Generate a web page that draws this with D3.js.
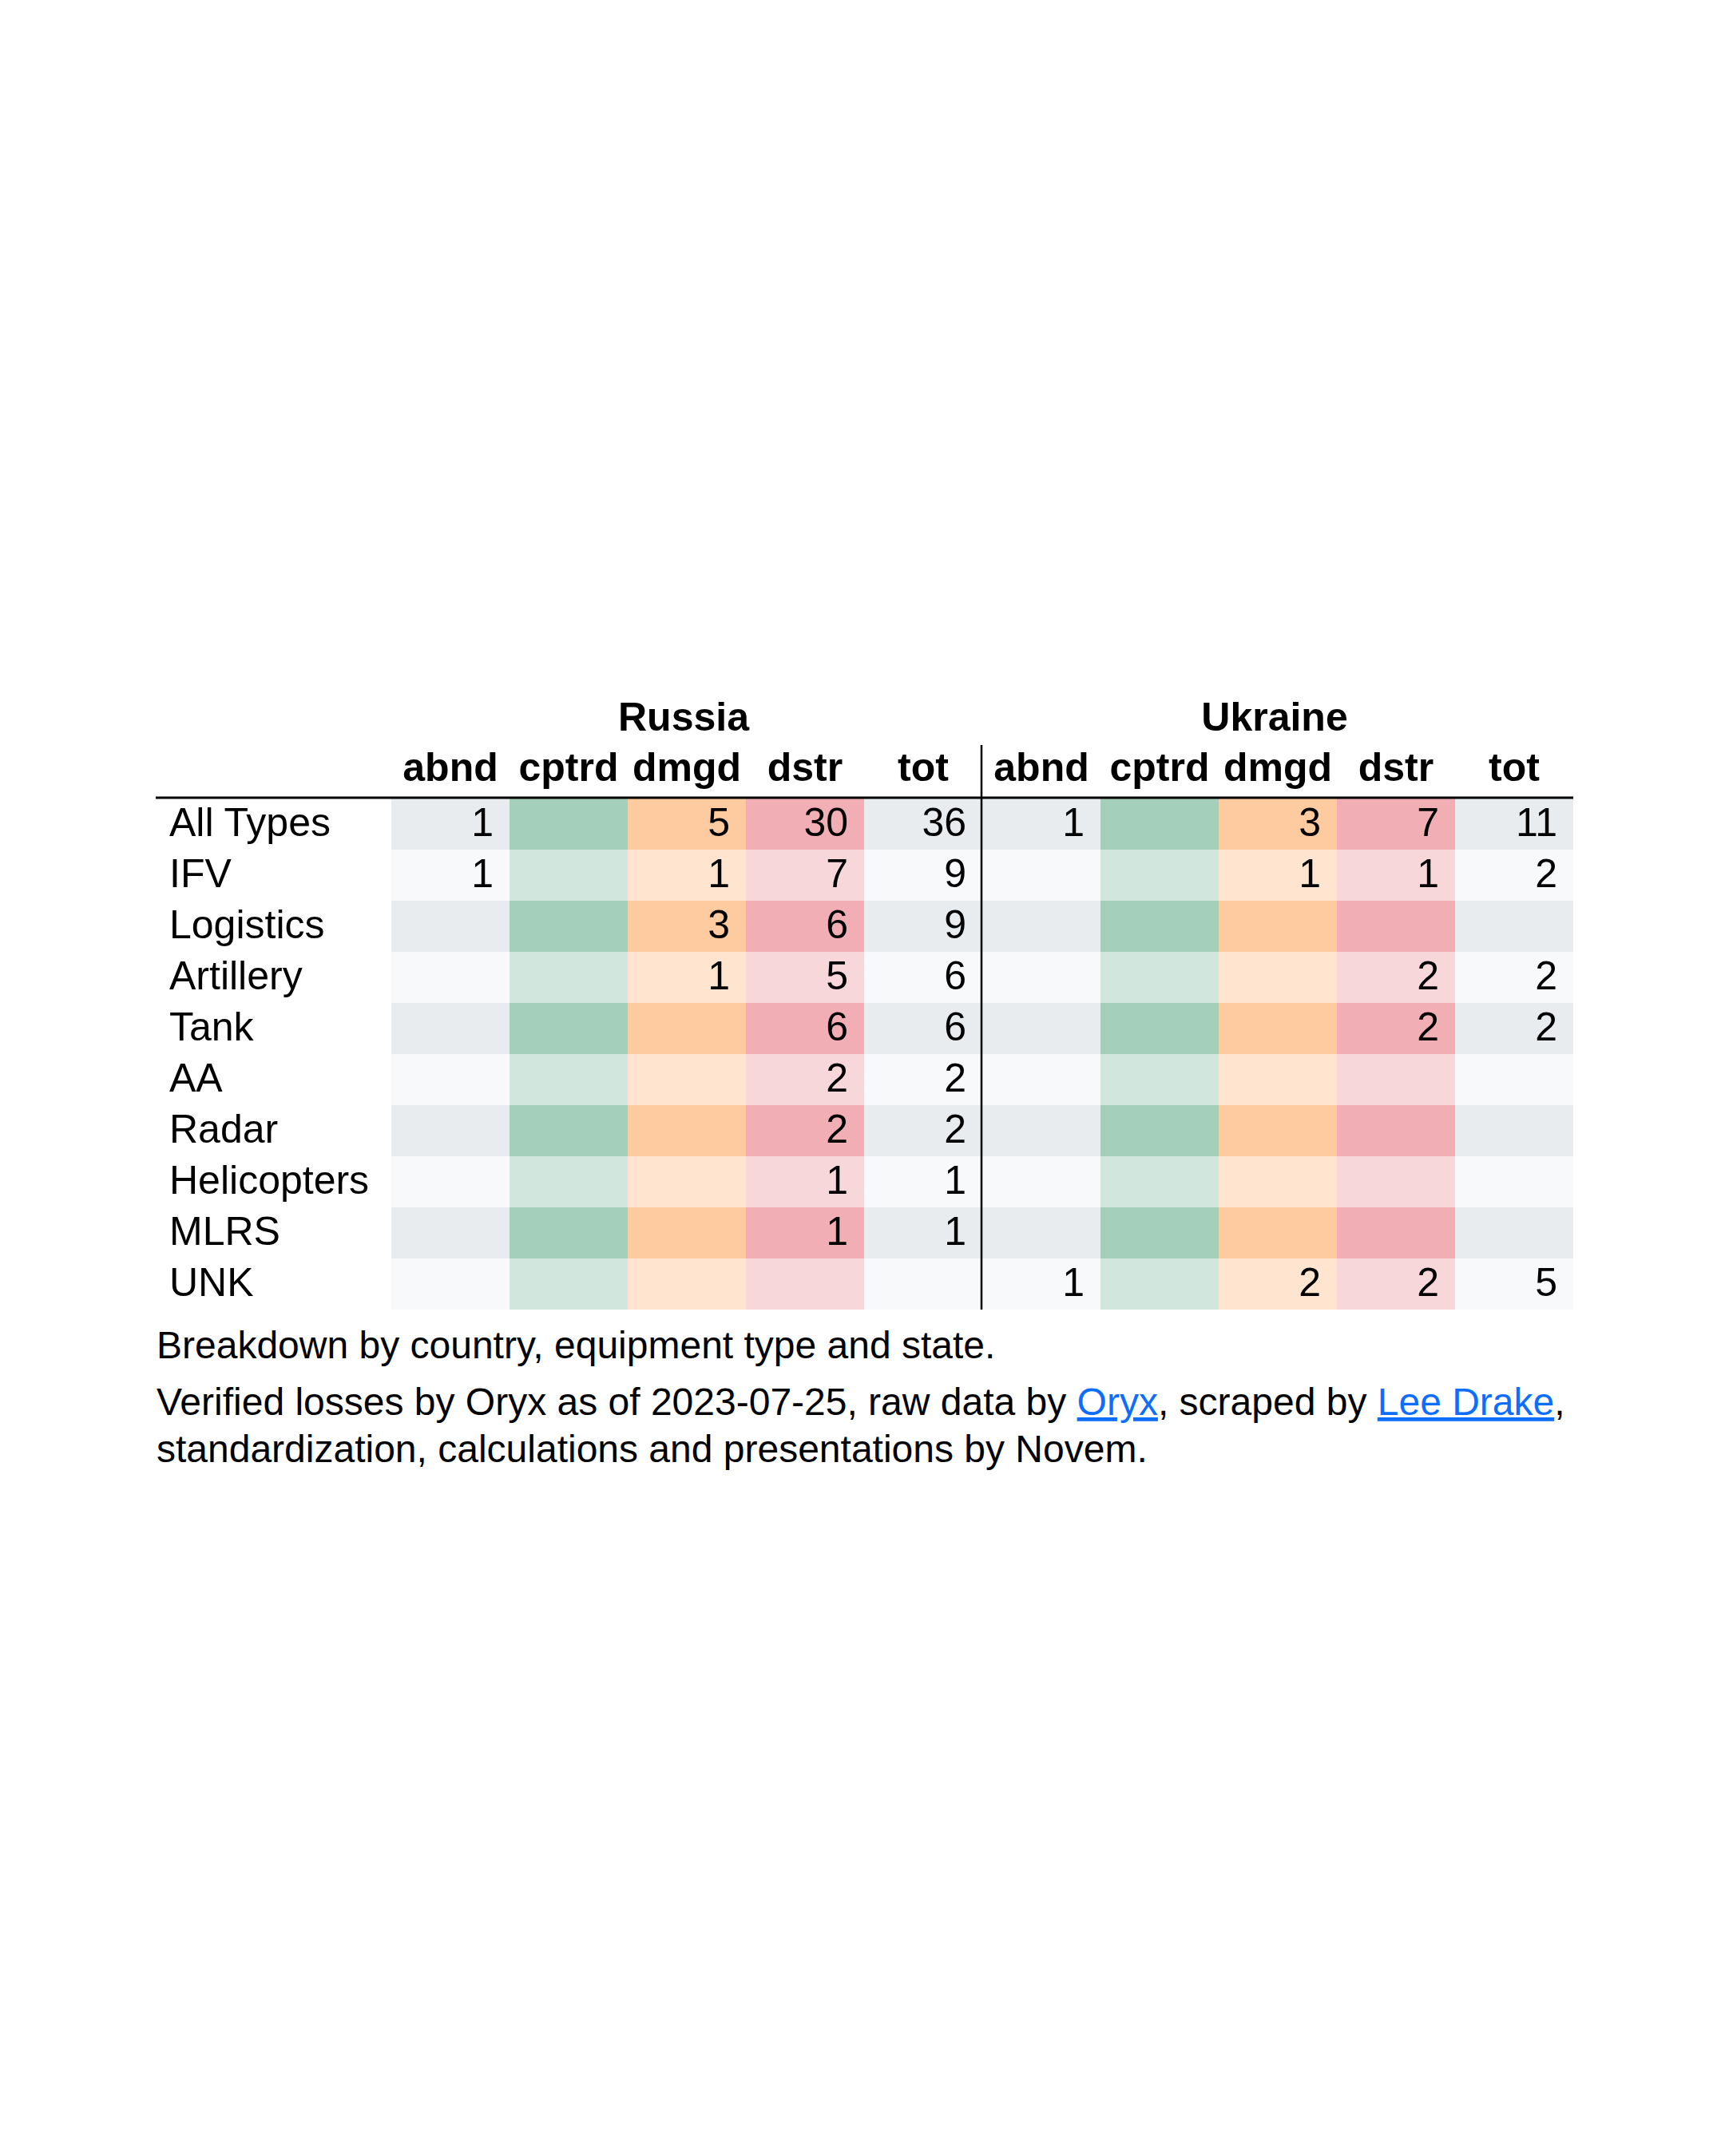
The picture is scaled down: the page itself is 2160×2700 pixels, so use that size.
<!DOCTYPE html>
<html>
<head>
<meta charset="utf-8">
<script src="https://cdn.jsdelivr.net/npm/d3@7"></script>
<style>
  body { margin: 0; background: #fff; }
  svg { font-family: "Liberation Sans", Arial, Helvetica, sans-serif; }
</style>
</head>
<body>
<div id="canvas"></div>
<script>
// data
const categories = ["All Types", "IFV", "Logistics", "Artillery", "Tank", "AA", "Radar", "Helicopters", "MLRS", "UNK"];
const countries = ["Russia", "Ukraine"];
const states = ["abnd", "cptrd", "dmgd", "dstr", "tot"];

// one array per state, aligned with categories (null = empty cell)
const russiaAbnd  = [1, 1, null, null, null, null, null, null, null, null];
const russiaCptrd = [null, null, null, null, null, null, null, null, null, null];
const russiaDmgd  = [5, 1, 3, 1, null, null, null, null, null, null];
const russiaDstr  = [30, 7, 6, 5, 6, 2, 2, 1, 1, null];
const russiaTot   = [36, 9, 9, 6, 6, 2, 2, 1, 1, null];

const ukraineAbnd  = [1, null, null, null, null, null, null, null, null, 1];
const ukraineCptrd = [null, null, null, null, null, null, null, null, null, null];
const ukraineDmgd  = [3, 1, null, null, null, null, null, null, null, 2];
const ukraineDstr  = [7, 1, null, 2, 2, null, null, null, null, 2];
const ukraineTot   = [11, 2, null, 2, 2, null, null, null, null, 5];

const values = {
  Russia: [russiaAbnd, russiaCptrd, russiaDmgd, russiaDstr, russiaTot],
  Ukraine: [ukraineAbnd, ukraineCptrd, ukraineDmgd, ukraineDstr, ukraineTot]
};

// colours per state: [even row, odd row]
const stateColors = {
  abnd:  ["#e9ecef", "#f8f9fa"],
  cptrd: ["#a3cfbb", "#d1e7dd"],
  dmgd:  ["#fecba1", "#ffe5d0"],
  dstr:  ["#f1aeb5", "#f8d7da"],
  tot:   ["#e9ecef", "#f8f9fa"]
};

// constants
const width = 2160;
const height = 2700;
const tableLeft = 195;
const tableRight = 1970;
const cellsLeft = 490;
const headerY = 999;
const rowsTop = 1000;
const rowH = 64;
const fontSize = 50;

const columns = countries.flatMap(c => states.map(s => ({country: c, state: s, key: c + "|" + s})));

// scales
const x = d3.scaleBand()
    .domain(columns.map(d => d.key))
    .range([cellsLeft, tableRight]);
const xCountry = d3.scaleBand()
    .domain(countries)
    .range([cellsLeft, tableRight]);
const y = d3.scaleBand()
    .domain(categories)
    .range([rowsTop, rowsTop + rowH * categories.length]);

const svg = d3.select('#canvas')
    .append('svg').attr('width', width).attr('height', height);

svg.append('rect').attr('width', width).attr('height', height).attr('fill', '#fff');

// cells
const cells = [];
categories.forEach((cat, i) => {
  columns.forEach(col => {
    const si = states.indexOf(col.state);
    cells.push({cat, i, col, value: values[col.country][si][i]});
  });
});

svg.append('g').attr('class', 'cells')
  .selectAll('rect')
  .data(cells)
  .join('rect')
    .attr('x', d => x(d.col.key))
    .attr('y', d => y(d.cat))
    .attr('width', x.bandwidth())
    .attr('height', y.bandwidth())
    .attr('fill', d => stateColors[d.col.state][d.i % 2])
    .attr('shape-rendering', 'crispEdges');

svg.append('g').attr('class', 'values')
  .selectAll('text')
  .data(cells.filter(d => d.value != null))
  .join('text')
    .attr('x', d => x(d.col.key) + x.bandwidth() - 20)
    .attr('y', d => y(d.cat) + 47)
    .attr('text-anchor', 'end')
    .attr('font-size', fontSize)
    .attr('fill', '#000')
    .text(d => d.value);

// row labels
svg.append('g').attr('class', 'row-labels')
  .selectAll('text')
  .data(categories)
  .join('text')
    .attr('x', 212)
    .attr('y', d => y(d) + 47)
    .attr('font-size', fontSize)
    .attr('fill', '#000')
    .text(d => d);

// column headers
svg.append('g').attr('class', 'country-headers')
  .selectAll('text')
  .data(countries)
  .join('text')
    .attr('x', d => xCountry(d) + xCountry.bandwidth() / 2 - 4)
    .attr('y', 915)
    .attr('text-anchor', 'middle')
    .attr('font-size', fontSize)
    .attr('font-weight', 'bold')
    .text(d => d);

svg.append('g').attr('class', 'state-headers')
  .selectAll('text')
  .data(columns)
  .join('text')
    .attr('x', d => x(d.key) + x.bandwidth() / 2)
    .attr('y', 978)
    .attr('text-anchor', 'middle')
    .attr('font-size', fontSize)
    .attr('font-weight', 'bold')
    .text(d => d.state);

// rules
svg.append('line')
    .attr('x1', tableLeft).attr('x2', tableRight)
    .attr('y1', headerY).attr('y2', headerY)
    .attr('stroke', '#000').attr('stroke-width', 3);

svg.append('line')
    .attr('x1', xCountry('Ukraine') - 1).attr('x2', xCountry('Ukraine') - 1)
    .attr('y1', 933).attr('y2', y.range()[1])
    .attr('stroke', '#000').attr('stroke-width', 2.5);

// footer
const foot = svg.append('g').attr('class', 'footer')
    .attr('font-size', 48).attr('fill', '#000');
foot.append('text').attr('x', 196).attr('y', 1701)
    .text('Breakdown by country, equipment type and state.');

const line2 = foot.append('text').attr('x', 196).attr('y', 1772);
line2.append('tspan').text('Verified losses by Oryx as of 2023-07-25, raw data by ');
line2.append('tspan').attr('fill', '#0d6efd').attr('text-decoration', 'underline').text('Oryx');
line2.append('tspan').text(', scraped by ');
line2.append('tspan').attr('fill', '#0d6efd').attr('text-decoration', 'underline').text('Lee Drake');
line2.append('tspan').text(',');

foot.append('text').attr('x', 196).attr('y', 1831)
    .text('standardization, calculations and presentations by Novem.');
</script>
</body>
</html>
